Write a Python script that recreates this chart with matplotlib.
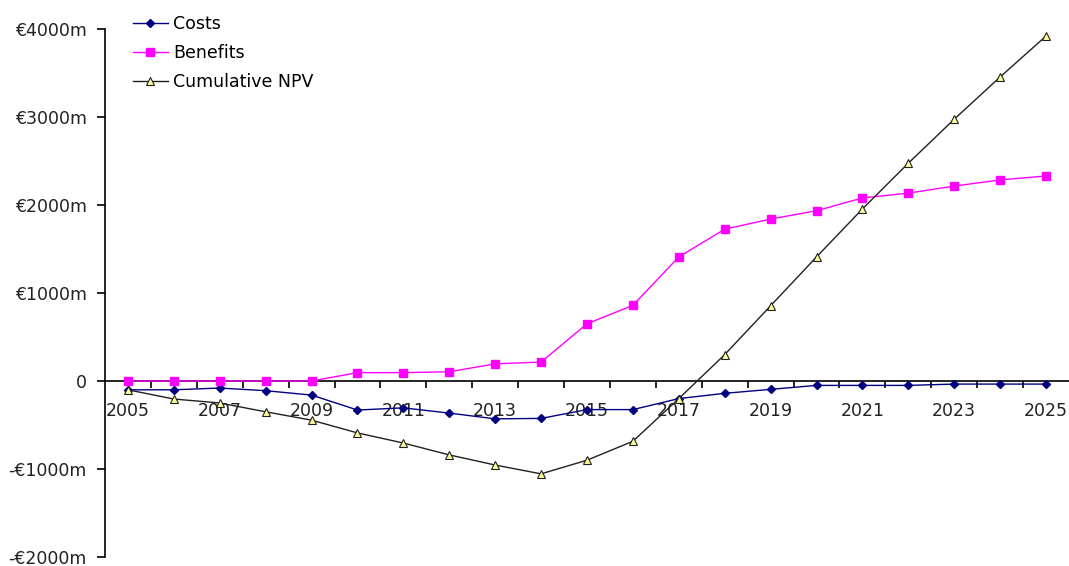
import numpy as np
import matplotlib
matplotlib.use("Agg")
import matplotlib.pyplot as plt

# reference text is wide (stretched), DejaVu metrics match it best
plt.rcParams['font.family'] = ['DejaVu Sans']

years = list(range(2005, 2026))
costs = [-100, -100, -80, -110, -160, -330, -305, -365, -430, -425, -325,
         -325, -200, -140, -95, -50, -50, -50, -35, -35, -35]
benefits = [0, 0, 0, 0, 0, 95, 95, 105, 195, 215, 650,
            860, 1410, 1725, 1840, 1935, 2080, 2135, 2215, 2285, 2330]
npv = [-100, -205, -250, -350, -445, -590, -705, -840, -955, -1055, -900,
       -685, -200, 300, 855, 1410, 1955, 2475, 2975, 3455, 3920]
ytick_vals = [-2000, -1000, 0, 1000, 2000, 3000, 4000]
ytick_labels = ['-€2000m', '-€1000m', '0', '€1000m', '€2000m', '€3000m', '€4000m']

fs = 12.5
fig = plt.figure(figsize=(10.69, 5.66), dpi=100)
ax = fig.add_axes([105 / 1069, 9 / 566, 964 / 1069, 528 / 566])

ax.plot(years, costs, color='#000080', lw=1.0, marker='D', ms=4.2,
        mfc='#000080', mec='#000080', label='Costs', zorder=3)
ax.plot(years, benefits, color='#FF00FF', lw=1.0, marker='s', ms=5.2,
        mfc='#FF00FF', mec='#FF00FF', label='Benefits', zorder=3)
ax.plot(years, npv, color='#202020', lw=1.0, marker='^', ms=5.5,
        mfc='#FFFF99', mec='#202020', mew=0.8, label='Cumulative NPV', zorder=3)

ax.set_xlim(2004.5, 2025.5)
ax.set_ylim(-2000, 4000)

ax.spines['top'].set_visible(False)
ax.spines['right'].set_visible(False)
ax.spines['bottom'].set_position(('data', 0))
ax.spines['left'].set_linewidth(1.2)
ax.spines['bottom'].set_linewidth(1.2)

ax.set_yticks(ytick_vals)
ax.set_yticklabels(ytick_labels)
ax.tick_params(axis='y', direction='out', length=6, width=1.2, labelsize=fs,
               pad=7, colors='black', labelcolor='#222222')

# odd years as labels, ticks between categories
ax.set_xticks(years[::2])
ax.set_xticklabels([str(y) for y in years[::2]])
ax.set_xticks([y + 0.5 for y in years[:-1]], minor=True)
ax.tick_params(axis='x', which='major', length=0, labelsize=fs, pad=15,
               colors='#222222')
ax.tick_params(axis='x', which='minor', direction='out', length=5, width=1.2)

ax.legend(loc='upper left', bbox_to_anchor=(133 / 1069, 0.974),
          bbox_transform=fig.transFigure, frameon=False, fontsize=fs,
          handlelength=2.0, handletextpad=0.3, labelspacing=0.65,
          borderpad=0, borderaxespad=0)

fig.savefig('out.png', dpi=100)
